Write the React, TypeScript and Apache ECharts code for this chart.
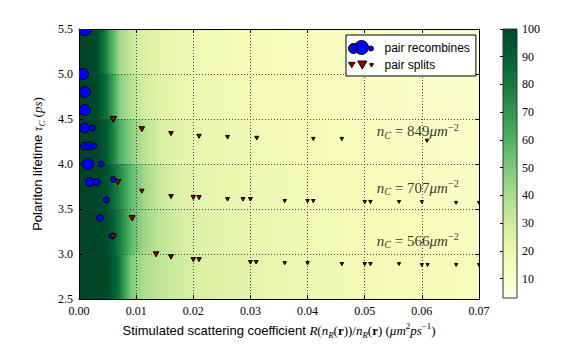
import React, { useEffect, useRef } from 'react';
import * as echarts from 'echarts';

// ---- data ----
const recombX = [0.001, 0.0007, 0.001, 0.001, 0.001, 0.0023, 0.001, 0.0018, 0.0026, 0.0016, 0.0039, 0.0019, 0.0031, 0.006, 0.0048, 0.0037, 0.0058];
const recombY = [5.5, 5.0, 4.8, 4.6, 4.4, 4.4, 4.2, 4.2, 4.2, 4.0, 4.0, 3.8, 3.8, 3.83, 3.6, 3.4, 3.2];
const recombSize = [13, 11, 11, 11, 10, 6, 8, 8, 6, 11, 6, 9, 7, 6, 6, 7, 6];

const splitX = [
  0.006, 0.011, 0.0161, 0.021, 0.026, 0.0311, 0.041, 0.046, 0.0609,
  0.0068, 0.011, 0.0161, 0.02, 0.021, 0.026, 0.0287, 0.03, 0.036, 0.04, 0.041, 0.05, 0.051, 0.056, 0.06, 0.066, 0.07,
  0.006, 0.0093, 0.0135, 0.0161, 0.02, 0.021, 0.03, 0.031, 0.036, 0.04, 0.046, 0.05, 0.051, 0.056, 0.06, 0.061, 0.066, 0.07,
];
const splitY = [
  4.5, 4.39, 4.34, 4.31, 4.3, 4.29, 4.28, 4.28, 4.26,
  3.8, 3.7, 3.64, 3.63, 3.63, 3.61, 3.61, 3.61, 3.59, 3.59, 3.59, 3.58, 3.58, 3.58, 3.58, 3.57, 3.57,
  3.2, 3.4, 3.0, 2.97, 2.94, 2.94, 2.91, 2.91, 2.9, 2.9, 2.89, 2.89, 2.89, 2.89, 2.88, 2.88, 2.88, 2.88,
];
const splitSize = [
  6.5, 5.5, 4.5, 4.5, 4, 4, 3.5, 3.5, 3.5,
  6, 4.5, 4.5, 4.5, 4.5, 4, 4, 4, 3.5, 3.5, 3.5, 3.5, 3.5, 3.2, 3.2, 3.2, 3.2,
  6, 6, 5.5, 5, 4.5, 4.5, 4, 4, 3.5, 3.5, 3.5, 3.5, 3.5, 3.2, 3.2, 3.2, 3.2, 3.2,
];

const annX = [0.0522, 0.0522, 0.0522];
const annY = [4.36, 3.73, 3.14];
const annN = [849, 707, 566];

const xTickLabels = ['0.00', '0.01', '0.02', '0.03', '0.04', '0.05', '0.06', '0.07'];
const colorbarRange = [3, 100];
const colorbarTicks = [10, 20, 30, 40, 50, 60, 70, 80, 90, 100];

// background field (recombination %), sampled along x for each y band (top to bottom)
const bgX = [0, 0.003, 0.005, 0.007, 0.009, 0.011, 0.014, 0.018, 0.024, 0.03, 0.04, 0.05, 0.06, 0.07];
const bgRowEdges = [5.5, 5.0, 4.5, 4.0, 3.5, 3.0, 2.5];
const bgRow1 = [100, 98, 72, 42, 33, 27, 22, 19, 17, 16, 14, 12, 10, 9];
const bgRow2 = [100, 99, 80, 48, 37, 30, 24, 20, 18, 17, 15, 13, 11, 10];
const bgRow3 = [100, 100, 90, 62, 48, 37, 28, 22, 20, 18, 16, 14, 12, 11];
const bgRow4 = [100, 100, 95, 75, 58, 44, 32, 24, 21, 19, 17, 15, 13, 12];
const bgRow5 = [100, 100, 97, 80, 58, 44, 35, 28, 23, 21, 18, 16, 15, 13];
const bgRow6 = [100, 100, 98, 82, 50, 40, 34, 29, 25, 22, 19, 17, 16, 15];
const bgRows = [bgRow1, bgRow2, bgRow3, bgRow4, bgRow5, bgRow6];

const YLGN = ['#ffffe5', '#f7fcb9', '#d9f0a3', '#addd8e', '#78c679', '#41ab5d', '#238443', '#006837', '#004529'];

const SERIF = 'Liberation Serif';
const SANS = 'Liberation Sans';
const BLUE = '#0000ff';
const RED = '#a00000';

const cmap = (v: number) => {
  const t = Math.min(1, Math.max(0, (v - colorbarRange[0]) / (colorbarRange[1] - colorbarRange[0])));
  return echarts.color.lerp(t, YLGN) as string;
};

const mathRich = (size: number) => ({
  s: { fontFamily: SANS, fontSize: size, color: '#000', lineHeight: 18 },
  m: { fontFamily: SERIF, fontStyle: 'italic', fontSize: size, color: '#000', lineHeight: 18 },
  t: { fontFamily: SERIF, fontSize: size, color: '#000', lineHeight: 18 },
  b: { fontFamily: SERIF, fontWeight: 'bold', fontSize: size, color: '#000', lineHeight: 18 },
  sub: { fontFamily: SERIF, fontStyle: 'italic', fontSize: size * 0.68, color: '#000', verticalAlign: 'bottom', lineHeight: 9 },
  sup: { fontFamily: SERIF, fontSize: size * 0.68, color: '#000', verticalAlign: 'top', lineHeight: 9 },
});

const CIRCLES_ICON =
  'path://M0,8A5,5,0,1,1,10,8A5,5,0,1,1,0,8Z M6,7A7,7,0,1,1,20,7A7,7,0,1,1,6,7Z M20,8A2.5,2.5,0,1,1,25,8A2.5,2.5,0,1,1,20,8Z';
const TRIS_ICON = 'path://M0,1L5,1L2.5,5Z M7,0L14,0L10.5,6Z M16,2L19,2L17.5,4.5Z';

export default function App() {
  const ref = useRef<HTMLDivElement>(null);
  useEffect(() => {
    document.body.style.margin = '0';
    const chart = echarts.init(ref.current!, null, { renderer: 'svg' });

    const bgData: number[][] = [];
    bgRows.forEach((row, r) => {
      for (let i = 0; i < bgX.length - 1; i++) {
        bgData.push([bgX[i], bgX[i + 1], bgRowEdges[r + 1], bgRowEdges[r], row[i], row[i + 1]]);
      }
    });

    const gridLine = { show: true, lineStyle: { color: '#444', width: 1, type: [1, 2] as any } };
    const axisLine = { show: true, onZero: false, lineStyle: { color: '#000', width: 1 } };
    const tick = { show: true, inside: true, length: 4, lineStyle: { color: '#000' } };

    const option: any = {
      animation: false,
      backgroundColor: '#fff',
      grid: [
        { left: 79, top: 29, width: 400, height: 270, containLabel: false },
        { left: 503, top: 29, width: 14, height: 269, containLabel: false, show: true, borderColor: '#333', borderWidth: 1, backgroundColor: 'transparent', z: 3 },
      ],
      xAxis: [
        {
          gridIndex: 0, type: 'value', min: 0, max: 0.07, interval: 0.01, position: 'bottom',
          axisLine, axisTick: tick,
          axisLabel: {
            formatter: (v: number) => xTickLabels[Math.round(v / 0.01)] ?? v.toFixed(2),
            fontFamily: SERIF, fontSize: 12, color: '#000', margin: 6,
          },
          splitLine: gridLine,
          name: '{s|Stimulated scattering coefficient }{m|R}{t|(}{m|n}{sub|R}{t|(}{b|r}{t|))/}{m|n}{sub|R}{t|(}{b|r}{t|) (}{m|μm}{sup|2}{m|ps}{sup|−1}{t|)}',
          nameLocation: 'middle', nameGap: 22,
          nameTextStyle: { rich: mathRich(13) },
        },
        {
          gridIndex: 0, type: 'value', min: 0, max: 0.07, interval: 0.01, position: 'top',
          axisLine, axisTick: tick, axisLabel: { show: false }, splitLine: { show: false },
        },
        { gridIndex: 1, type: 'value', min: 0, max: 1, show: false },
      ],
      yAxis: [
        {
          gridIndex: 0, type: 'value', min: 2.5, max: 5.5, interval: 0.5, position: 'left',
          axisLine, axisTick: tick,
          axisLabel: { formatter: (v: number) => v.toFixed(1), fontFamily: SERIF, fontSize: 12, color: '#000', margin: 6 },
          splitLine: gridLine,
          name: '{s|Polariton lifetime }{m|τ}{sub|C}{t| (}{m|ps}{t|)}',
          nameLocation: 'middle', nameGap: 33, nameRotate: 90,
          nameTextStyle: { rich: mathRich(13) },
        },
        {
          gridIndex: 0, type: 'value', min: 2.5, max: 5.5, interval: 0.5, position: 'right',
          axisLine, axisTick: tick, axisLabel: { show: false }, splitLine: { show: false },
        },
        {
          gridIndex: 1, type: 'value', min: colorbarRange[0], max: colorbarRange[1], position: 'right',
          axisLine: { show: false },
          axisTick: { show: true, inside: true, length: 3, customValues: colorbarTicks, lineStyle: { color: '#000' } },
          axisLabel: { show: true, customValues: colorbarTicks, fontFamily: SERIF, fontSize: 12, color: '#000', margin: 5 },
          splitLine: { show: false },
        },
      ],
      legend: {
        orient: 'vertical', left: 346, top: 35,
        padding: [5, 6, 5, 2], itemGap: 4, itemWidth: 25, itemHeight: 14,
        backgroundColor: '#fff', borderColor: '#000', borderWidth: 1,
        selectedMode: false,
        textStyle: { fontFamily: SANS, fontSize: 12, color: '#000', padding: [0, 0, 0, 6] },
        data: [
          { name: 'pair recombines', icon: CIRCLES_ICON, itemStyle: { color: BLUE, borderColor: '#000', borderWidth: 1 } },
          { name: 'pair splits', icon: TRIS_ICON, itemStyle: { color: RED, borderColor: '#000', borderWidth: 1 } },
        ],
      },
      series: [
        {
          type: 'custom', name: 'background', xAxisIndex: 0, yAxisIndex: 0, z: -10, silent: true, clip: true,
          encode: { x: [0, 1], y: [2, 3] },
          data: bgData,
          renderItem: (params: any, api: any) => {
            const a = api.coord([api.value(0), api.value(3)]);
            const b = api.coord([api.value(1), api.value(2)]);
            const v0 = api.value(4);
            const v1 = api.value(5);
            const stops = [0, 0.25, 0.5, 0.75, 1].map((t) => ({ offset: t, color: cmap(v0 + (v1 - v0) * t) }));
            return {
              type: 'rect',
              shape: { x: a[0], y: a[1], width: b[0] - a[0] + 1, height: b[1] - a[1] + 1 },
              style: { fill: new echarts.graphic.LinearGradient(0, 0, 1, 0, stops) },
            };
          },
        },
        {
          type: 'custom', name: 'colorbar', xAxisIndex: 2, yAxisIndex: 2, silent: true,
          encode: { x: [0, 2], y: [1, 3] },
          data: [[0, colorbarRange[0], 1, colorbarRange[1]]],
          renderItem: (params: any, api: any) => {
            const a = api.coord([api.value(0), api.value(3)]);
            const b = api.coord([api.value(2), api.value(1)]);
            const stops = YLGN.map((c, i) => ({ offset: i / (YLGN.length - 1), color: c }));
            return {
              type: 'rect',
              shape: { x: a[0], y: a[1], width: b[0] - a[0], height: b[1] - a[1] },
              style: { fill: new echarts.graphic.LinearGradient(0, 1, 0, 0, stops) },
            };
          },
        },
        {
          type: 'custom', name: 'pair recombines', xAxisIndex: 0, yAxisIndex: 0, z: 3, clip: true,
          encode: { x: 0, y: 1 },
          itemStyle: { color: BLUE, borderColor: '#000', borderWidth: 1 },
          data: recombX.map((x, i) => [x, recombY[i], recombSize[i]]),
          renderItem: (params: any, api: any) => {
            const c = api.coord([api.value(0), api.value(1)]);
            return {
              type: 'circle',
              shape: { cx: c[0], cy: c[1], r: api.value(2) / 2 },
              style: { fill: BLUE, stroke: '#000', lineWidth: 1 },
            };
          },
        },
        {
          type: 'custom', name: 'pair splits', xAxisIndex: 0, yAxisIndex: 0, z: 4, clip: true,
          encode: { x: 0, y: 1 },
          itemStyle: { color: RED, borderColor: '#000', borderWidth: 1 },
          data: splitX.map((x, i) => [x, splitY[i], splitSize[i]]),
          renderItem: (params: any, api: any) => {
            const c = api.coord([api.value(0), api.value(1)]);
            const h = api.value(2) / 2;
            return {
              type: 'polygon',
              shape: { points: [[c[0] - h, c[1] - h * 0.8], [c[0] + h, c[1] - h * 0.8], [c[0], c[1] + h]] },
              style: { fill: RED, stroke: '#000', lineWidth: 1 },
            };
          },
        },
        {
          type: 'scatter', name: 'annotations', xAxisIndex: 0, yAxisIndex: 0, z: 5, silent: true,
          data: annX.map((x, i) => [x, annY[i], annN[i]]),
          symbol: 'circle', symbolSize: 1,
          itemStyle: { color: 'rgba(0,0,0,0)' },
          label: {
            show: true, position: [0, 0], align: 'left', verticalAlign: 'middle',
            formatter: (p: any) => `{m|n}{sub|C}{t| = ${p.data[2]}}{m|μm}{sup|−2}`,
            rich: mathRich(15),
          },
        },
      ],
    };
    chart.setOption(option);
    return () => chart.dispose();
  }, []);
  return <div ref={ref} style={{ width: 581, height: 361 }} />;
}
